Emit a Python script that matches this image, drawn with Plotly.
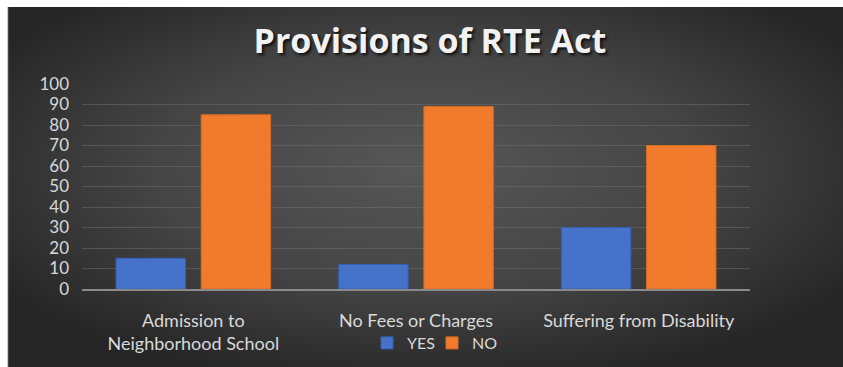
import base64
import plotly.graph_objects as go

# Survey responses on provisions of the RTE Act (percent)
categories = ["Admission to<br>Neighborhood School", "No Fees or Charges", "Suffering from Disability"]
yes_values = [15, 12, 30]
no_values = [85, 89, 70]
y_ticks = [0, 10, 20, 30, 40, 50, 60, 70, 80, 90, 100]

W, H = 843, 367
ML, MR, MT, MB = 82, 93, 84, 78
plot_w = W - ML - MR
plot_h = H - MT - MB

# Dark radial-gradient panel with a thin white frame at top and left
OFF = 7
PW, PH = W + 10, H + 10
svg = (
    f'<svg xmlns="http://www.w3.org/2000/svg" width="{PW}" height="{PH}" viewBox="0 0 {PW} {PH}" preserveAspectRatio="none">'
    f'<defs><radialGradient id="g" gradientUnits="userSpaceOnUse" cx="{(OFF + W) / 2}" cy="{(OFF + H) * 0.45}" r="{W * 0.6}" '
    f'gradientTransform="translate({(OFF + W) / 2} {(OFF + H) * 0.45}) scale(1 {H / W * 1.0}) translate({-(OFF + W) / 2} {-(OFF + H) * 0.45})">'
    '<stop offset="0%" stop-color="#575757"/>'
    '<stop offset="55%" stop-color="#444444"/>'
    '<stop offset="100%" stop-color="#262626"/>'
    '</radialGradient></defs>'
    f'<rect width="{PW}" height="{PH}" fill="white"/>'
    f'<rect x="{OFF}" y="{OFF}" width="{PW - OFF}" height="{PH - OFF}" fill="url(#g)"/>'
    f'<rect x="{OFF}" y="{OFF}" width="1.2" height="{PH - OFF}" fill="#c8c8c8"/>'
    '</svg>'
)
svg_uri = "data:image/svg+xml;base64," + base64.b64encode(svg.encode()).decode()

img_x = -ML / plot_w
img_w = PW / plot_w
img_y = (H - MB) / plot_h
img_h = PH / plot_h

font_family = "Lato, 'Open Sans', sans-serif"

fig = go.Figure()
fig.add_trace(go.Bar(
    name="YES", x=categories, y=yes_values,
    marker=dict(color="#4673c9", line=dict(color="#3561b3", width=1)),
))
fig.add_trace(go.Bar(
    name="NO", x=categories, y=no_values,
    marker=dict(color="#f07b2c", line=dict(color="#d96a22", width=1)),
))

fig.update_layout(
    width=W, height=H,
    margin=dict(l=ML, r=MR, t=MT, b=MB, autoexpand=False),
    paper_bgcolor="#282828",
    plot_bgcolor="rgba(0,0,0,0)",
    barmode="group",
    bargap=0.235,
    bargroupgap=0.185,
    font=dict(family=font_family, color="#d9d9d9", size=16),
    title=dict(
        text="<b>Provisions of RTE Act</b>",
        x=0.51, xanchor="center",
        y=1 - 41 / H, yanchor="middle", yref="container",
        font=dict(family="'Open Sans', Lato, sans-serif", size=34, color="#f2f2f2",
                  shadow="2px 2px 3px rgba(0,0,0,0.8)"),
    ),
    images=[dict(
        source=svg_uri, xref="paper", yref="paper",
        x=img_x, y=img_y, sizex=img_w, sizey=img_h,
        xanchor="left", yanchor="top", sizing="stretch", layer="below",
    )],
    showlegend=True,
    legend=dict(
        orientation="h", x=(432 - ML) / plot_w, xanchor="center",
        y=(H - MB - 343) / plot_h, yanchor="middle",
        bgcolor="rgba(0,0,0,0)",
        font=dict(size=16, color="#d9d9d9"),
        itemwidth=30,
        entrywidth=20, entrywidthmode="pixels",
    ),
)

fig.update_yaxes(
    range=[0, 100], tickvals=y_ticks,
    showgrid=True, gridcolor="rgba(110,110,110,0.55)", gridwidth=1,
    zeroline=False, showline=False,
    ticklabelstandoff=12,
    tickfont=dict(size=17, color="#d9d9d9"),
)
fig.update_xaxes(
    showline=True, linecolor="#8a8a8a", linewidth=2,
    showgrid=False, ticks="",
    ticklabelstandoff=14,
    tickfont=dict(size=18, color="#d9d9d9"),
)

fig.write_html("out.html")
